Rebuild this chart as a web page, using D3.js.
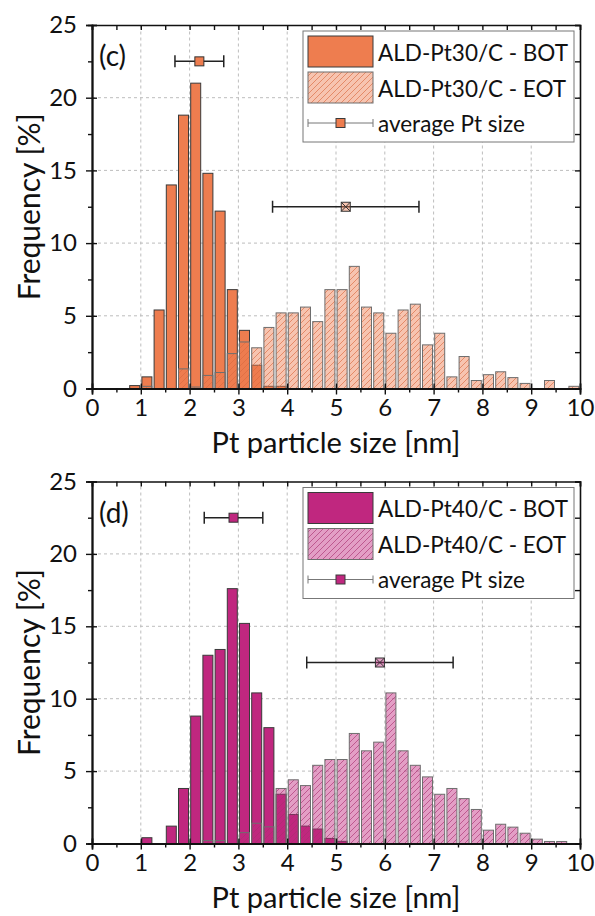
<!DOCTYPE html>
<html>
<head>
<meta charset="utf-8">
<script src="https://cdn.jsdelivr.net/npm/d3@7"></script>
<style>
  body { margin: 0; background: #fff; }
  text { font-family: Lato, "Open Sans", sans-serif; fill: #111; }
</style>
</head>
<body>
<svg id="chart" width="595" height="916"></svg>
<script>
// bin centres [nm], bins are 0.25 nm wide
var sizes = [0.875, 1.125, 1.375, 1.625, 1.875, 2.125, 2.375, 2.625, 2.875, 3.125,
             3.375, 3.625, 3.875, 4.125, 4.375, 4.625, 4.875, 5.125, 5.375, 5.625,
             5.875, 6.125, 6.375, 6.625, 6.875, 7.125, 7.375, 7.625, 7.875, 8.125,
             8.375, 8.625, 8.875, 9.125, 9.375, 9.625, 9.875];

// panel (c) ALD-Pt30/C
var pt30Bot = [0.2, 0.8, 5.4, 14.0, 18.8, 21.0, 14.8, 12.2, 6.8, 4.0,
               1.6, 0.15, 0.15, 0, 0, 0, 0, 0, 0, 0,
               0, 0, 0, 0, 0, 0, 0, 0, 0, 0,
               0, 0, 0, 0, 0, 0, 0];
var pt30Eot = [0, 0.15, 0, 0, 1.35, 0.1, 0.9, 1.1, 2.4, 3.2,
               2.8, 4.2, 5.2, 5.2, 5.6, 4.6, 6.8, 6.8, 8.4, 5.6,
               5.2, 3.8, 5.4, 5.8, 3.0, 3.8, 0.8, 2.2, 0.55, 0.95,
               1.15, 0.75, 0.35, 0, 0.55, 0, 0.15];

// panel (d) ALD-Pt40/C
var pt40Bot = [0, 0.4, 0, 1.2, 3.8, 8.8, 13.0, 13.4, 17.6, 15.2,
               10.4, 8.0, 3.4, 2.0, 1.2, 1.0, 0.35, 0.15, 0, 0,
               0, 0, 0, 0, 0, 0, 0, 0, 0, 0,
               0, 0, 0, 0, 0, 0, 0];
var pt40Eot = [0, 0, 0, 0, 0, 0, 0.2, 0.2, 0, 0.75,
               1.4, 1.15, 3.8, 4.4, 4.0, 5.4, 5.8, 5.8, 7.6, 6.4,
               7.0, 10.4, 6.4, 5.4, 4.6, 3.4, 3.8, 3.1, 2.35, 0.92,
               1.33, 1.13, 0.71, 0.3, 0.14, 0.14, 0];

// average Pt size: [mean, std, plotted height]
var pt30AvgBot = [2.2, 0.5, 22.5];
var pt30AvgEot = [5.2, 1.5, 12.5];
var pt40AvgBot = [2.9, 0.6, 22.5];
var pt40AvgEot = [5.9, 1.5, 12.5];

var xTicks = [0, 1, 2, 3, 4, 5, 6, 7, 8, 9, 10];
var yTicks = [0, 5, 10, 15, 20, 25];

var svg = d3.select('#chart');
var defs = svg.append('defs');

var panels = [
  {id: 'c', top: 25, bottom: 388.5, bot: pt30Bot, eot: pt30Eot,
   color: '#ee7d4f', hatch: '#d9693f', avgBot: pt30AvgBot, avgEot: pt30AvgEot,
   name: 'ALD-Pt30/C'},
  {id: 'd', top: 481.5, bottom: 843.5, bot: pt40Bot, eot: pt40Eot,
   color: '#c0277f', hatch: '#a8306f', avgBot: pt40AvgBot, avgEot: pt40AvgEot,
   name: 'ALD-Pt40/C'}
];

panels.forEach(drawPanel);

function drawPanel(p) {
  var x = d3.scaleLinear().domain([0, 10]).range([92, 580]);
  var y = d3.scaleLinear().domain([0, 25]).range([p.bottom, p.top]);
  var g = svg.append('g');

  // hatch pattern for the EOT bars
  var pat = defs.append('pattern')
    .attr('id', 'hatch-' + p.id)
    .attr('patternUnits', 'userSpaceOnUse')
    .attr('width', 6).attr('height', 6);
  pat.append('path')
    .attr('d', 'M0,6 L6,0 M-1.5,1.5 L1.5,-1.5 M4.5,7.5 L7.5,4.5')
    .attr('stroke', p.hatch).attr('stroke-width', 0.8).attr('stroke-opacity', 0.8);

  // dashed grid
  g.selectAll('.gx').data(xTicks.slice(1, -1)).join('line')
    .attr('x1', d => x(d)).attr('x2', d => x(d))
    .attr('y1', y(0)).attr('y2', y(25))
    .attr('stroke', '#bdbdbd').attr('stroke-dasharray', '3,3');
  g.selectAll('.gy').data(yTicks.slice(1, -1)).join('line')
    .attr('y1', d => y(d)).attr('y2', d => y(d))
    .attr('x1', x(0)).attr('x2', x(10))
    .attr('stroke', '#bdbdbd').attr('stroke-dasharray', '3,3');

  var binW = x(0.25) - x(0);
  var bw = binW * 0.82;

  // BOT bars
  g.append('g').selectAll('rect')
    .data(sizes.map((s, i) => ({s: s, v: p.bot[i]})).filter(d => d.v > 0))
    .join('rect')
    .attr('x', d => x(d.s) - bw / 2).attr('width', bw)
    .attr('y', d => y(d.v)).attr('height', d => y(0) - y(d.v))
    .attr('fill', p.color).attr('stroke', '#3a3a3a').attr('stroke-width', 1);

  // EOT bars (semi transparent + hatch)
  var eotData = sizes.map((s, i) => ({s: s, v: p.eot[i]})).filter(d => d.v > 0);
  var eg = g.append('g');
  eg.selectAll('rect.fill').data(eotData).join('rect')
    .attr('class', 'fill')
    .attr('x', d => x(d.s) - bw / 2).attr('width', bw)
    .attr('y', d => y(d.v)).attr('height', d => y(0) - y(d.v))
    .attr('fill', p.color).attr('fill-opacity', 0.45);
  eg.selectAll('rect.hatch').data(eotData).join('rect')
    .attr('class', 'hatch')
    .attr('x', d => x(d.s) - bw / 2).attr('width', bw)
    .attr('y', d => y(d.v)).attr('height', d => y(0) - y(d.v))
    .attr('fill', 'url(#hatch-' + p.id + ')')
    .attr('stroke', '#6e6e6e').attr('stroke-width', 1);

  // average size markers with error bars
  drawAvg(g, x(p.avgBot[0]), y(p.avgBot[2]), x(p.avgBot[0] - p.avgBot[1]), x(p.avgBot[0] + p.avgBot[1]), p, false);
  drawAvg(g, x(p.avgEot[0]), y(p.avgEot[2]), x(p.avgEot[0] - p.avgEot[1]), x(p.avgEot[0] + p.avgEot[1]), p, true);

  // axes
  var minorX = d3.range(0.5, 10, 1);
  var minorY = d3.range(2.5, 25, 5);
  var axisG = g.append('g').attr('class', 'axes');

  axisG.append('g').attr('transform', `translate(0,${y(0)})`)
    .call(d3.axisBottom(x).tickValues(xTicks).tickSize(6).tickPadding(4).tickFormat(d3.format('d')))
    .call(a => a.selectAll('text').attr('font-size', 24));
  axisG.append('g').attr('transform', `translate(0,${y(0)})`)
    .call(d3.axisBottom(x).tickValues(xTicks).tickSize(-5).tickFormat(''));
  axisG.append('g').attr('transform', `translate(0,${y(0)})`)
    .call(d3.axisBottom(x).tickValues(minorX).tickSize(4).tickFormat(''));

  axisG.append('g').attr('transform', `translate(0,${y(25)})`)
    .call(d3.axisTop(x).tickValues(xTicks.concat(minorX)).tickSize(-5).tickFormat(''));

  axisG.append('g').attr('transform', `translate(${x(0)},0)`)
    .call(d3.axisLeft(y).tickValues(yTicks).tickSize(6).tickPadding(9))
    .call(a => a.selectAll('text').attr('font-size', 24));
  axisG.append('g').attr('transform', `translate(${x(0)},0)`)
    .call(d3.axisLeft(y).tickValues(yTicks).tickSize(-5).tickFormat(''));
  axisG.append('g').attr('transform', `translate(${x(0)},0)`)
    .call(d3.axisLeft(y).tickValues(minorY).tickSize(4).tickFormat(''));

  axisG.append('g').attr('transform', `translate(${x(10)},0)`)
    .call(d3.axisRight(y).tickValues(yTicks.concat(minorY)).tickSize(-5).tickFormat(''));

  axisG.selectAll('.domain').attr('stroke', '#111').attr('stroke-width', 1.6);
  axisG.selectAll('.tick line').attr('stroke', '#111').attr('stroke-width', 1.4);
  axisG.selectAll('text').attr('fill', '#111').attr('font-family', 'Lato, sans-serif');

  // axis titles
  g.append('text')
    .attr('transform', `translate(28,${(y(0) + y(25)) / 2}) rotate(-90)`)
    .attr('text-anchor', 'middle').attr('dominant-baseline', 'central')
    .attr('font-size', 30).text('Frequency [%]');
  g.append('text')
    .attr('x', (x(0) + x(10)) / 2).attr('y', y(0) + 53)
    .attr('text-anchor', 'middle').attr('dominant-baseline', 'central')
    .attr('font-size', 29).text('Pt particle size [nm]');

  // panel label
  g.append('text')
    .attr('x', 99).attr('y', y(25) + 30)
    .attr('dominant-baseline', 'central')
    .attr('font-size', 28).text('(' + p.id + ')');

  // legend
  var lx = 303, ly = y(25) + 6;
  var lg = g.append('g');
  lg.append('rect').attr('x', lx).attr('y', ly).attr('width', 271).attr('height', 111)
    .attr('fill', '#fff').attr('stroke', '#777').attr('stroke-width', 1);
  lg.append('rect').attr('x', lx + 5).attr('y', ly + 5).attr('width', 65).attr('height', 31)
    .attr('fill', p.color).attr('stroke', '#3a3a3a');
  lg.append('rect').attr('x', lx + 5).attr('y', ly + 41).attr('width', 65).attr('height', 31)
    .attr('fill', p.color).attr('fill-opacity', 0.45);
  lg.append('rect').attr('x', lx + 5).attr('y', ly + 41).attr('width', 65).attr('height', 31)
    .attr('fill', 'url(#hatch-' + p.id + ')').attr('stroke', '#6e6e6e');
  var ry = ly + 92;
  lg.append('line').attr('x1', lx + 5).attr('x2', lx + 70).attr('y1', ry).attr('y2', ry)
    .attr('stroke', '#777').attr('stroke-width', 1);
  lg.selectAll('.cap').data([lx + 5, lx + 70]).join('line')
    .attr('x1', d => d).attr('x2', d => d).attr('y1', ry - 4).attr('y2', ry + 4)
    .attr('stroke', '#777');
  lg.append('rect').attr('x', lx + 37.5 - 4.5).attr('y', ry - 4.5).attr('width', 9).attr('height', 9)
    .attr('fill', p.color).attr('stroke', '#3a3a3a');
  lg.selectAll('.ltxt')
    .data([p.name + ' - BOT', p.name + ' - EOT', 'average Pt size'])
    .join('text')
    .attr('x', lx + 75).attr('y', (d, i) => [ly + 21, ly + 57, ry][i])
    .attr('dominant-baseline', 'central').attr('font-size', 22.5)
    .text(d => d);
}

function drawAvg(g, cx, cy, x0, x1, p, crossed) {
  g.append('line').attr('x1', x0).attr('x2', x1).attr('y1', cy).attr('y2', cy)
    .attr('stroke', '#222').attr('stroke-width', 1.5);
  g.selectAll(null).data([x0, x1]).join('line')
    .attr('x1', d => d).attr('x2', d => d).attr('y1', cy - 6).attr('y2', cy + 6)
    .attr('stroke', '#222').attr('stroke-width', 1.5);
  var s = 9;
  g.append('rect').attr('x', cx - s / 2).attr('y', cy - s / 2).attr('width', s).attr('height', s)
    .attr('fill', p.color).attr('fill-opacity', crossed ? 0.45 : 1)
    .attr('stroke', '#333').attr('stroke-width', 1);
  if (crossed) {
    g.append('path')
      .attr('d', `M${cx - s / 2},${cy - s / 2}L${cx + s / 2},${cy + s / 2}M${cx - s / 2},${cy + s / 2}L${cx + s / 2},${cy - s / 2}`)
      .attr('stroke', '#333').attr('stroke-width', 1);
  }
}
</script>
</body>
</html>
